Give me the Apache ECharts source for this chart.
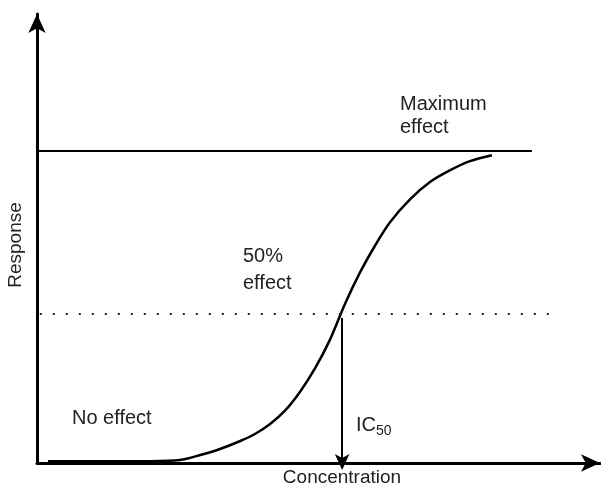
<!DOCTYPE html>
<html>
<head>
<meta charset="utf-8">
<script src="https://cdn.jsdelivr.net/npm/echarts@6/dist/echarts.min.js"></script>
<style>
  html, body { margin: 0; padding: 0; background: #fff; }
  #chart { width: 601px; height: 491px; }
</style>
</head>
<body>
<div id="chart"></div>
<script>
// curve (concentration 0-100, response with max effect = 100)
const concentration = [1.95, 20.1, 25.4, 29.0, 32.5, 36.1, 38.7, 41.4, 44.0, 46.7, 49.4, 52.0, 54.7, 57.4, 60.0, 62.7, 66.3, 69.8, 73.4, 76.9, 80.8];
const response = [0.6, 0.6, 0.96, 2.56, 4.49, 7.05, 9.29, 12.5, 16.7, 22.8, 30.4, 39.4, 51.0, 61.2, 69.6, 77.2, 84.6, 90.1, 93.9, 96.8, 98.7];

const maxEffect = 100;
const maxLineEnd = 87.9;
const halfEffect = 48;
const halfLine = [0.5, 92.0];
const ic50 = 54.2;
const ic50Top = 46.5;

const font = "Liberation Sans, Arial, Helvetica, sans-serif";

let myChart = echarts.init(document.getElementById("chart"));

let option = {
  animation: false,
  grid: {
    left: 37,
    right: 1,
    top: 14,
    bottom: 28,
  },
  xAxis: {
    type: "value",
    min: 0,
    max: 100,
    axisLine: {
      symbol: ["none", "arrow"],
      symbolSize: [13, 19],
      lineStyle: { color: "#000", width: 3 },
    },
    axisTick: { show: false },
    axisLabel: { show: false },
    splitLine: { show: false },
  },
  yAxis: {
    type: "value",
    min: 0,
    max: 144,
    axisLine: {
      symbol: ["none", "arrow"],
      symbolSize: [13, 19],
      lineStyle: { color: "#000", width: 3 },
    },
    axisTick: { show: false },
    axisLabel: { show: false },
    splitLine: { show: false },
  },
  series: [
    {
      type: "line",
      smooth: 0.3,
      showSymbol: false,
      silent: true,
      lineStyle: { color: "#000", width: 2.5 },
      data: concentration.map((c, i) => [c, response[i]]),
      markLine: {
        silent: true,
        animation: false,
        label: { show: false },
        emphasis: { disabled: true },
        data: [
          [
            { coord: [0, maxEffect], symbol: "none", lineStyle: { type: "solid", width: 2, color: "#000" } },
            { coord: [maxLineEnd, maxEffect], symbol: "none" },
          ],
          [
            { coord: [halfLine[0], halfEffect], symbol: "none", lineStyle: { type: [2, 11], width: 2, color: "#222" } },
            { coord: [halfLine[1], halfEffect], symbol: "none" },
          ],
          [
            { coord: [ic50, ic50Top], symbol: "none", lineStyle: { type: "solid", width: 2, color: "#000" } },
            { coord: [ic50, 0], symbol: "arrow", symbolSize: [11, 16], symbolOffset: [0, -7] },
          ],
        ],
      },
    },
  ],
  graphic: [
    { type: "text", x: 400, y: 104, style: { text: "Maximum", font: "20px " + font, fill: "#222", verticalAlign: "middle" } },
    { type: "text", x: 400, y: 127, style: { text: "effect", font: "20px " + font, fill: "#222", verticalAlign: "middle" } },
    { type: "text", x: 243, y: 256, style: { text: "50%", font: "20px " + font, fill: "#222", verticalAlign: "middle" } },
    { type: "text", x: 243, y: 283, style: { text: "effect", font: "20px " + font, fill: "#222", verticalAlign: "middle" } },
    { type: "text", x: 72, y: 418, style: { text: "No effect", font: "20px " + font, fill: "#222", verticalAlign: "middle" } },
    {
      type: "text",
      x: 356,
      y: 425,
      style: {
        text: "{a|IC}{b|50}",
        verticalAlign: "middle",
        rich: {
          a: { font: "20px " + font, fill: "#222", color: "#222" },
          b: { font: "14px " + font, fill: "#222", color: "#222", padding: [12, 0, 0, 0] },
        },
      },
    },
    { type: "text", x: 342, y: 478, style: { text: "Concentration", font: "19px " + font, fill: "#222", align: "center", verticalAlign: "middle" } },
    { type: "text", x: 16, y: 245, rotation: Math.PI / 2, style: { text: "Response", font: "19px " + font, fill: "#222", align: "center", verticalAlign: "middle" } },
  ],
};

option && myChart.setOption(option);
window.addEventListener("resize", function () {
  myChart.resize();
});
</script>
</body>
</html>
